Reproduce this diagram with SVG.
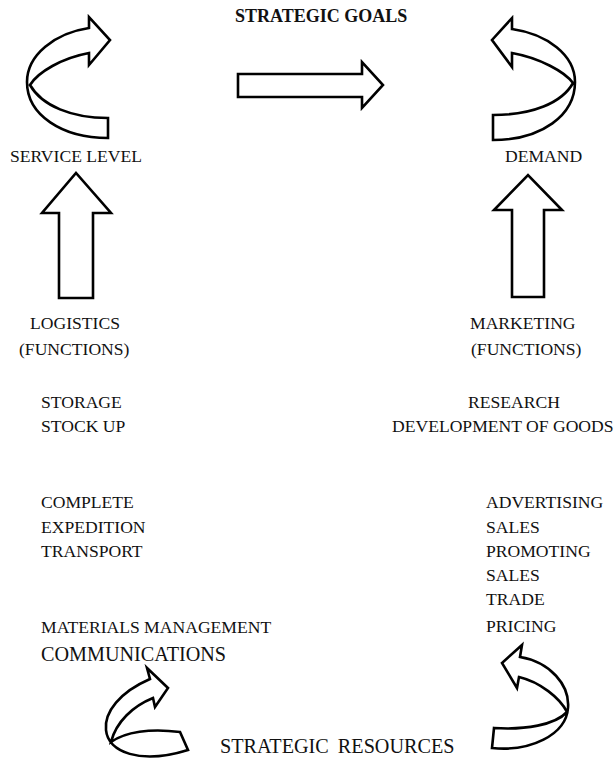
<svg xmlns="http://www.w3.org/2000/svg" width="615" height="763" viewBox="0 0 615 763">
<style>
text{font-family:"Liberation Serif","Times New Roman",serif;font-size:17.6px;fill:#111}
.b{font-weight:bold;font-size:18px}
.big{font-size:20.2px}
.ar{fill:#fff;stroke:#000;stroke-width:2.6;stroke-linejoin:miter}
</style>
<rect width="615" height="763" fill="#fff"/>
<g id="connectors">
<path class="ar" d="M89,28 L89,17 L110,40 L89,65 L89,53 C62,58 38,72 30,85 C42,106 72,118 108,118 L108,138 C62,138 27,115 27,82 C27,55 55,33 89,28 Z"/>
<path class="ar" d="M512,29 L512,18 L492,40 L512,67 L512,53 C540,58 565,72 573,83 C562,103 532,115 493,115 L493,140 C542,140 575,115 575,82 C575,55 547,34 512,29 Z"/>
<path class="ar" d="M238,74 L362,74 L362,62 L383,85 L362,108 L362,97 L238,97 Z"/>
<path class="ar" d="M59,298 L59,213 L42,213 L76,173 L111,213 L93,213 L93,298 Z"/>
<path class="ar" d="M512,297 L512,210 L494,210 L528,175 L562,210 L544,210 L544,297 Z"/>
<path class="ar" d="M150,679 C120,692 104,712 106,730 C108,752 140,765 188,750 L180,732 C150,728 125,732 111,742 C116,722 133,706 153,698 L155,707 L168,688 L147,668 Z"/>
<path class="ar" d="M520,657 C550,662 570,685 568,708 C566,735 530,752 492,748 L494,728 C525,730 555,725 567,712 C560,698 540,682 519,677 L517,688 L502,663 L522,645 Z"/>
</g>
<g id="strategic-goals"><text class="b" x="235" y="22">STRATEGIC GOALS</text></g>
<g id="service-level"><text x="10" y="162">SERVICE LEVEL</text></g>
<g id="demand"><text x="505" y="162">DEMAND</text></g>
<g id="logistics">
<text x="30" y="329">LOGISTICS</text>
<text x="19" y="355">(FUNCTIONS)</text>
</g>
<g id="marketing">
<text x="470" y="329">MARKETING</text>
<text x="471" y="355">(FUNCTIONS)</text>
</g>
<g id="logistics-tasks-1">
<text x="41" y="408">STORAGE</text>
<text x="41" y="432">STOCK UP</text>
</g>
<g id="marketing-tasks-1">
<text x="468" y="408">RESEARCH</text>
<text x="392" y="432">DEVELOPMENT OF GOODS</text>
</g>
<g id="logistics-tasks-2">
<text x="41" y="508">COMPLETE</text>
<text x="41" y="533">EXPEDITION</text>
<text x="41" y="557">TRANSPORT</text>
</g>
<g id="marketing-tasks-2">
<text x="486" y="508">ADVERTISING</text>
<text x="486" y="533">SALES</text>
<text x="486" y="557">PROMOTING</text>
<text x="486" y="581">SALES</text>
<text x="486" y="605">TRADE</text>
<text x="486" y="632">PRICING</text>
</g>
<g id="logistics-tasks-3">
<text x="41" y="633">MATERIALS MANAGEMENT</text>
<text class="big" x="41" y="661">COMMUNICATIONS</text>
</g>
<g id="strategic-resources"><text class="big" x="220" y="753" word-spacing="4">STRATEGIC RESOURCES</text></g>
</svg>
